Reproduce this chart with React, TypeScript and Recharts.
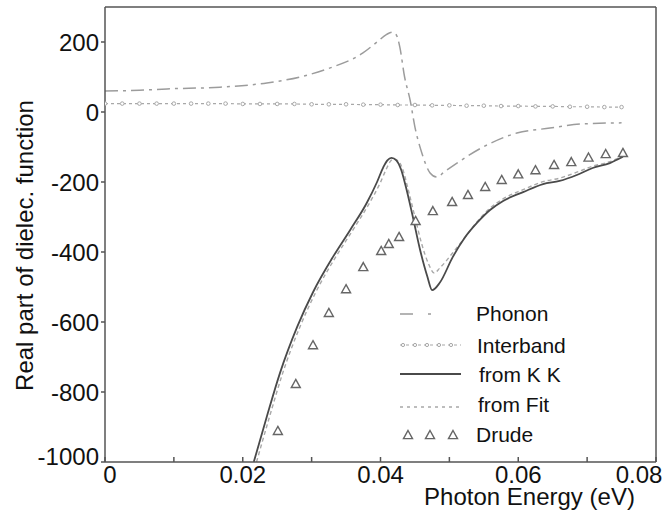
import React from 'react';
import { ComposedChart, Line, Scatter, XAxis, YAxis, Legend, Label } from 'recharts';

const FONT = '"Liberation Sans", Arial, sans-serif';

// Axis ticks
const xTicks = [0, 0.01, 0.02, 0.03, 0.04, 0.05, 0.06, 0.07, 0.08];
const xTickLabels = ['0', '', '0.02', '', '0.04', '', '0.06', '', '0.08'];
const yTicks = [-1000, -800, -600, -400, -200, 0, 200];
const yTickLabels = ['-1000', '-800', '-600', '-400', '-200', '0', '200'];

// Phonon contribution
const phononE = [0, 0.005, 0.009, 0.0167, 0.0235, 0.0283, 0.0327, 0.0374, 0.0395, 0.0409, 0.0417, 0.0423, 0.0428, 0.0435, 0.0443, 0.045, 0.046, 0.0472, 0.0482, 0.0492, 0.0511, 0.0549, 0.0598, 0.0646, 0.0694, 0.075];
const phononV = [60, 62, 66, 71, 83, 100, 126, 168, 200, 222, 228, 220, 186, 100, 34, -43, -117, -174, -186, -172, -146, -100, -60, -46, -34, -31];

// Interband contribution
const interE = [0, 0.0025, 0.005, 0.0075, 0.01, 0.0125, 0.015, 0.0175, 0.02, 0.0225, 0.025, 0.0275, 0.03, 0.0325, 0.035, 0.0375, 0.04, 0.0425, 0.045, 0.0475, 0.05, 0.0525, 0.055, 0.0575, 0.06, 0.0625, 0.065, 0.0675, 0.07, 0.0725, 0.075];
const interV = [24, 24, 24, 24, 24, 24, 24, 24, 23, 23, 23, 23, 22, 22, 22, 21, 21, 20, 20, 19, 19, 18, 18, 17, 17, 16, 16, 15, 15, 14, 14];

// from K K
const kkE = [0.0216, 0.0235, 0.0254, 0.0279, 0.0302, 0.0331, 0.0356, 0.038, 0.0395, 0.0404, 0.041, 0.0416, 0.0423, 0.043, 0.0437, 0.0447, 0.0457, 0.0468, 0.0475, 0.0486, 0.0505, 0.0522, 0.054, 0.0559, 0.0578, 0.0607, 0.0636, 0.066, 0.0685, 0.0708, 0.0733, 0.0752];
const kkV = [-1000, -870, -746, -614, -515, -414, -337, -260, -200, -158, -138, -131, -138, -165, -215, -300, -390, -470, -509, -488, -414, -360, -317, -280, -254, -229, -206, -197, -180, -160, -146, -128];

// from Fit
const fitE = [0.022, 0.0239, 0.0258, 0.0283, 0.0306, 0.0335, 0.036, 0.0384, 0.0399, 0.0408, 0.0414, 0.0419, 0.0426, 0.0433, 0.044, 0.045, 0.046, 0.047, 0.0478, 0.0486, 0.0505, 0.0522, 0.054, 0.0559, 0.0578, 0.0607, 0.0636, 0.066, 0.0685, 0.0708, 0.0733, 0.0752];
const fitV = [-1000, -870, -746, -614, -515, -414, -337, -260, -205, -165, -142, -134, -140, -168, -220, -300, -378, -435, -460, -446, -402, -360, -314, -275, -248, -222, -199, -189, -172, -155, -142, -126];

// Drude
const drudeE = [0.0251, 0.0277, 0.0302, 0.0325, 0.035, 0.0375, 0.0401, 0.0412, 0.0427, 0.0451, 0.0476, 0.0504, 0.0527, 0.0552, 0.0576, 0.06, 0.0625, 0.0652, 0.0677, 0.0702, 0.0727, 0.0752];
const drudeV = [-911, -777, -666, -574, -506, -443, -397, -377, -357, -311, -283, -257, -237, -214, -194, -178, -166, -151, -143, -130, -120, -117];

const seriesNames = ['Phonon', 'Interband', 'from K K', 'from Fit', 'Drude'];

const zip = (xs: number[], ys: number[]) => xs.map((x, i) => ({ x, y: ys[i] }));
const phononData = zip(phononE, phononV);
const interData = zip(interE, interV);
const kkData = zip(kkE, kkV);
const fitData = zip(fitE, fitV);
const drudeData = zip(drudeE, drudeV);

const AXIS = '#555';
const C_KK = '#4a4a4a';
const C_FIT = '#a8a8a8';
const C_PH = '#9c9c9c';
const C_IB = '#a8a8a8';
const C_DR = '#666';

const XTick = (props: any) => {
  const { x, y, payload } = props;
  const i = xTicks.indexOf(payload.value);
  const label = i >= 0 ? xTickLabels[i] : '';
  if (!label) return null;
  let dx = 0;
  if (i === 0) dx = 5;
  if (i === xTicks.length - 1) dx = -17;
  return (
    <text x={x + dx} y={y - 1} dy="0.71em" textAnchor="middle" fontFamily={FONT} fontSize={24} fill="#111">
      {label}
    </text>
  );
};

const YTick = (props: any) => {
  const { x, y, payload } = props;
  const i = yTicks.indexOf(payload.value);
  const label = i >= 0 ? yTickLabels[i] : '';
  const dy = i === 0 ? -6 : 0;
  return (
    <text x={x} y={y + dy} dy="0.355em" textAnchor="end" fontFamily={FONT} fontSize={24} fill="#111">
      {label}
    </text>
  );
};

const Tri = ({ cx, cy }: any) => {
  if (cx == null || cy == null) return null;
  const s = 4.5;
  return (
    <path
      d={`M${cx},${cy - s} L${cx + s},${cy + s * 0.8} L${cx - s},${cy + s * 0.8} Z`}
      fill="#fff"
      stroke={C_DR}
      strokeWidth={1.4}
    />
  );
};

const IbDot = (props: any) => {
  const { cx, cy, index } = props;
  if (cx == null || cy == null) return null;
  return <circle key={`ib-${index}`} cx={cx} cy={cy} r={1.8} fill="#fff" stroke={C_IB} strokeWidth={1} />;
};

const LegendBox = () => {
  const rows = [14, 45, 74, 107, 135];
  const textX = [81, 82, 84, 83, 81];
  const textY = [21, 53, 82, 112, 142];
  return (
    <svg width={200} height={150} style={{ display: 'block' }}>
      <line x1={5} x2={66} y1={rows[0]} y2={rows[0]} stroke={C_PH} strokeWidth={1.5} strokeDasharray="13 15 3 40" />
      <line x1={5} x2={66} y1={rows[1]} y2={rows[1]} stroke={C_IB} strokeWidth={1.2} strokeDasharray="3 3" />
      {[8, 20, 32, 44, 56].map((cx) => (
        <circle key={cx} cx={cx} cy={rows[1]} r={1.6} fill="#fff" stroke={C_IB} strokeWidth={1} />
      ))}
      <line x1={5} x2={66} y1={rows[2]} y2={rows[2]} stroke={C_KK} strokeWidth={1.8} />
      <line x1={5} x2={66} y1={rows[3]} y2={rows[3]} stroke={C_FIT} strokeWidth={1.4} strokeDasharray="3 4" />
      {[13, 35, 58].map((cx) => (
        <Tri key={cx} cx={cx} cy={rows[4]} />
      ))}
      {seriesNames.map((n, i) => (
        <text key={n} x={textX[i]} y={textY[i]} fontFamily={FONT} fontSize={21} fill="#111">
          {n}
        </text>
      ))}
    </svg>
  );
};

const YLabel = (props: any) => {
  const vb = props.viewBox || { x: 0, y: 7, width: 105, height: 455 };
  const x = vb.x + 33;
  const y = vb.y + vb.height / 2 + 11;
  return (
    <text x={x} y={y} transform={`rotate(-90, ${x}, ${y})`} textAnchor="middle" fontFamily={FONT} fontSize={24} fill="#111">
      Real part of dielec. function
    </text>
  );
};

const XLabel = (props: any) => {
  const vb = props.viewBox || { x: 105, y: 462, width: 551, height: 52 };
  return (
    <text x={vb.x + 424.5} y={vb.y + 43} textAnchor="middle" fontFamily={FONT} fontSize={24} fill="#111">
      Photon Energy (eV)
    </text>
  );
};

export default function App() {
  return (
    <div style={{ position: 'absolute', left: 0, top: 0, width: 665, height: 514, background: '#fff' }}>
      <ComposedChart width={665} height={514} margin={{ top: 0, right: 0, bottom: 0, left: 0 }}>
        <XAxis
          xAxisId={0}
          dataKey="x"
          type="number"
          domain={[0, 0.08]}
          ticks={xTicks}
          interval={0}
          allowDataOverflow
          height={52}
          stroke={AXIS}
          strokeWidth={1.5}
          tickSize={-5}
          tickMargin={10}
          tick={<XTick />}
        >
          <Label content={<XLabel />} />
        </XAxis>
        <XAxis
          xAxisId="top"
          orientation="top"
          dataKey="x"
          type="number"
          domain={[0, 0.08]}
          ticks={xTicks}
          interval={0}
          allowDataOverflow
          height={7}
          stroke={AXIS}
          strokeWidth={1.5}
          tickSize={-5}
          tick={false}
        />
        <YAxis
          yAxisId={0}
          type="number"
          domain={[-1000, 300]}
          ticks={yTicks}
          interval={0}
          allowDataOverflow
          width={105}
          stroke={AXIS}
          strokeWidth={1.5}
          tickSize={4}
          tickMargin={2}
          tick={<YTick />}
        >
          <Label content={<YLabel />} />
        </YAxis>
        <YAxis
          yAxisId="right"
          orientation="right"
          type="number"
          domain={[-1000, 300]}
          ticks={yTicks}
          interval={0}
          allowDataOverflow
          width={9}
          stroke={AXIS}
          strokeWidth={1.5}
          tickSize={-5}
          tick={false}
        />
        <Line
          data={interData}
          dataKey="y"
          name={seriesNames[1]}
          type="linear"
          stroke={C_IB}
          strokeWidth={1.2}
          strokeDasharray="3 3"
          dot={IbDot}
          activeDot={false}
          isAnimationActive={false}
        />
        <Line
          data={phononData}
          dataKey="y"
          name={seriesNames[0]}
          type="monotone"
          stroke={C_PH}
          strokeWidth={1.5}
          strokeDasharray="13 5 3 5"
          dot={false}
          activeDot={false}
          isAnimationActive={false}
        />
        <Line
          data={fitData}
          dataKey="y"
          name={seriesNames[3]}
          type="monotone"
          stroke={C_FIT}
          strokeWidth={1.4}
          strokeDasharray="4 3"
          dot={false}
          activeDot={false}
          isAnimationActive={false}
        />
        <Line
          data={kkData}
          dataKey="y"
          name={seriesNames[2]}
          type="monotone"
          stroke={C_KK}
          strokeWidth={1.8}
          dot={false}
          activeDot={false}
          isAnimationActive={false}
        />
        <Scatter
          data={drudeData}
          dataKey="y"
          name={seriesNames[4]}
          shape={<Tri />}
          isAnimationActive={false}
        />
        <Legend
          layout="vertical"
          align="center"
          verticalAlign="middle"
          content={<LegendBox />}
          wrapperStyle={{ position: 'absolute', left: 395, top: 300, width: 200, height: 150 }}
        />
      </ComposedChart>
    </div>
  );
}
